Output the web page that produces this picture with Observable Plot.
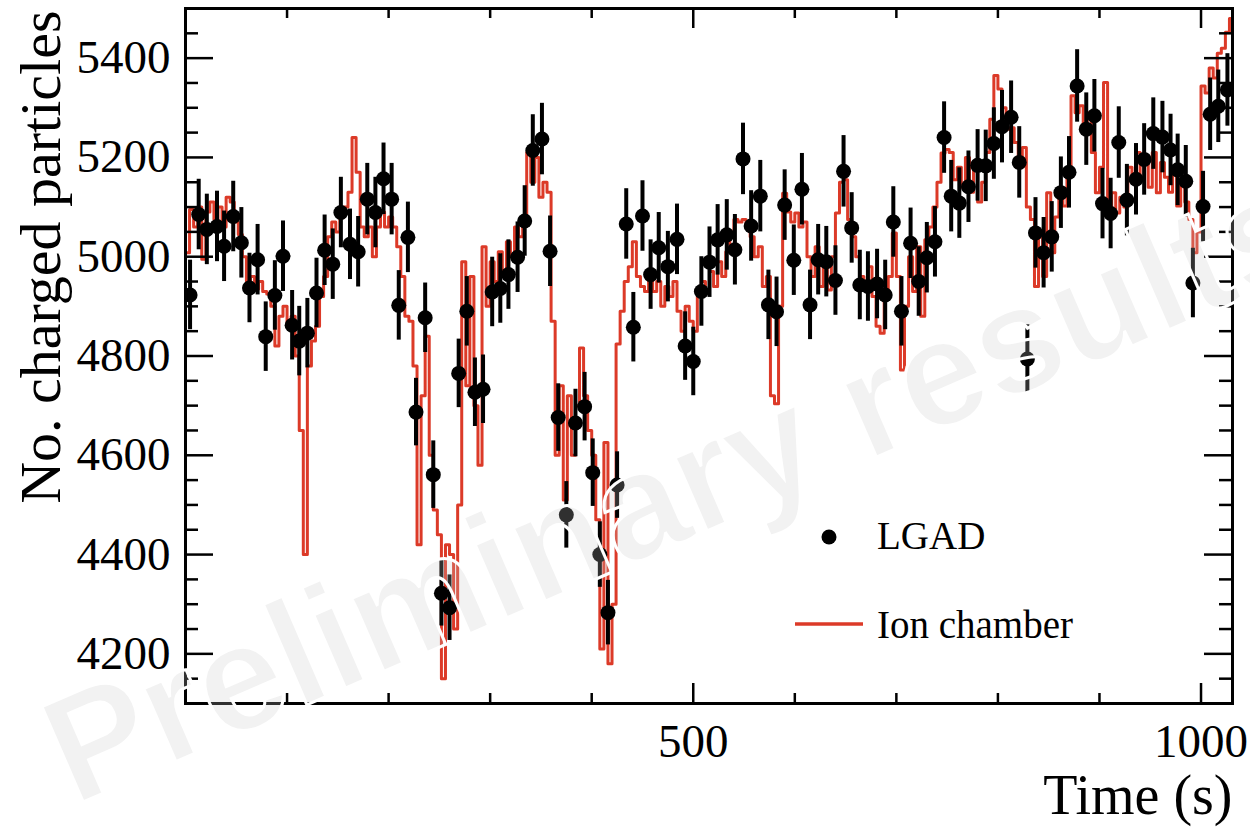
<!DOCTYPE html>
<html><head><meta charset="utf-8">
<script src="https://cdn.jsdelivr.net/npm/d3@7"></script>
<script src="https://cdn.jsdelivr.net/npm/@observablehq/plot@0.6"></script>
<style>
html,body{margin:0;padding:0;background:#fff;}
#chart{width:1250px;height:827px;}
</style></head><body><div id="chart"></div>
<script>
// ---------------- data ----------------
const lgadTime = [4.5,13,21,31,38,47,55,63,71,79,88,96,105,112,120,129,137,145,153,162,170,179,187,195,203,210,219,227,236,244,252,260,269,277,285,293,302,310,318,327,334,342,351,359,367,375,384,393,401,408,416,425,434,441,450,458,466,475,484,492,500,508,516,524,533,541,549,557,566,574,582,590,599,607,615,623,631,640,648,656,664,672,681,689,697,705,714,722,730,738,747,754,762,771,780,788,796,804,813,821,829,837,845,853,862,870,878,887,895,903,911,919,927,936,944,953,962,970,977,985,992,1002,1009,1017,1026];
const lgadCount = [4923,5085,5055,5061,5021,5081,5028,4937,4994,4839,4922,5001,4862,4830,4846,4927,5013,4985,5089,5025,5010,5116,5089,5157,5116,4902,5039,4687,4877,4561,4322,4293,4765,4890,4727,4733,4929,4936,4964,4999,5072,5214,5237,5011,4676,4480,4665,4698,4565,4400,4283,4540,5066,4858,5082,4964,5018,4980,5035,4820,4789,4930,4989,5034,5044,5014,5197,5062,5122,4903,4889,5104,4993,5136,4903,4994,4990,4952,5172,5058,4943,4940,4945,4923,5070,4890,5027,4950,4998,5030,5240,5122,5108,5141,5184,5183,5228,5262,5281,5190,4794,5048,5008,5040,5129,5170,5344,5257,5284,5107,5087,5230,5114,5156,5196,5248,5241,5215,5175,5152,4947,5101,5287,5303,5336];
const lgadErr = [70,71,71,71,71,71,71,70,71,70,70,71,70,70,70,70,71,71,71,71,71,72,71,72,72,70,71,68,70,68,66,66,69,70,69,69,70,70,70,71,71,72,72,71,68,67,68,69,68,66,65,67,71,70,71,70,71,71,71,69,69,70,71,71,71,71,72,71,72,70,70,71,71,72,70,71,71,70,72,71,70,70,70,70,71,70,71,70,71,71,72,72,71,72,72,72,72,73,73,72,69,71,71,71,72,72,73,73,73,71,71,72,72,72,72,72,72,72,72,72,70,71,73,73,73];

// Ion chamber histogram: bin start 0 s, bin width 4 s
const ionBinWidth = 4;
const ionCount = [
5008,5095,5060,5100,4995,5090,5110,5075,5100,5060,
5120,5110,5070,5045,5000,4950,4960,4935,4950,4930,
4925,4900,4820,4880,4900,4860,4880,4800,4650,4400,
4780,4830,4860,4920,4960,5040,5070,5050,5080,5100,
5130,5240,5170,5060,5040,5060,5000,5060,5090,5060,
5080,5060,5020,4960,4880,4870,4780,4420,4720,4840,
4600,4490,4440,4150,4420,4400,4250,4500,4990,4740,
4960,4700,4580,5020,4900,4990,4950,5010,4960,5030,
5000,5060,5040,5070,5210,5150,5200,5120,5150,5130,
4870,4600,4740,4510,4720,4600,4700,4816,4720,4650,
4600,4470,4210,4626,4180,4300,4824,4890,4950,4980,
5030,4960,4940,4930,4960,4930,4950,4900,4940,4920,
4950,4890,4850,4900,4870,4850,4920,4950,4930,4970,
4940,4990,4960,5010,5040,5075,5070,5075,5060,5040,
5000,5020,4940,4960,4720,4704,4900,5128,5090,5070,
5088,5060,5070,5000,4960,5020,4940,4980,4933,5000,
5088,5150,5155,5075,5040,5000,4960,4940,4980,4920,
4860,4846,4930,4960,5048,4960,4772,4900,5000,4930,
5020,4880,5034,5060,5100,5150,5209,5216,5210,5155,
5180,5140,5200,5130,5180,5110,5150,5210,5277,5365,
5338,5300,5257,5260,5230,5190,5220,5100,5075,4940,
5040,4960,5129,5008,5080,5130,5102,5176,5324,5290,
5304,5257,5290,5210,5129,5180,5351,5100,5129,5088,
5120,5100,5180,5150,5210,5160,5200,5140,5210,5129,
5190,5160,5130,5176,5102,5150,5110,5075,5008,5050,
5344,5330,5380,5360,5410,5420,5452,5480];

const xDomain = [0, 1031];
const yDomain = [4100, 5500];
const xMinorTicks = [100,200,300,400,600,700,800,900];
const xMajorTicks = [500,1000];
const yMajorTicks = [4200,4400,4600,4800,5000,5200,5400];
const yMinorTicks = [4150,4250,4300,4350,4450,4500,4550,4650,4700,4750,4850,4900,4950,5050,5100,5150,5250,5300,5350,5450];
const xTitle = "Time (s)";
const yTitle = "No. charged particles";
const legendLabels = ["LGAD", "Ion chamber"];
const watermarkText = "Preliminary results";

// ---------------- layout ----------------
const W = 1250, H = 827;
const mL = 185, mR = 18, mT = 8, mB = 124;
const pw = W - mL - mR, ph = H - mT - mB;
const RED = "#dc3a28";
const SERIF = "'Liberation Serif', 'Times New Roman', serif";

const lgad = lgadTime.map((t, i) => ({t, v: lgadCount[i], e: lgadErr[i]}));
const ion = ionCount.map((v, i) => ({t: i * ionBinWidth, v}));
ion.unshift({t: 0, v: 0});
ion.push({t: ionCount.length * ionBinWidth, v: ionCount[ionCount.length - 1]});

function legendMark() {
  const g = d3.create("svg:g").attr("text-anchor", "start");
  g.append("circle").attr("cx", 829).attr("cy", 537).attr("r", 7.5).attr("fill", "black");
  g.append("text").attr("x", 877).attr("y", 549).attr("font-family", SERIF).attr("font-size", 39)
    .attr("text-anchor", "start").attr("fill", "black").text(legendLabels[0]);
  g.append("line").attr("x1", 795).attr("x2", 863).attr("y1", 624).attr("y2", 624)
    .attr("stroke", RED).attr("stroke-width", 3.5);
  g.append("text").attr("x", 877).attr("y", 638).attr("font-family", SERIF).attr("font-size", 39)
    .attr("text-anchor", "start").attr("fill", "black").text(legendLabels[1]);
  return g.node();
}

function watermarkMark() {
  const g = d3.create("svg:g");
  g.append("text")
    .attr("transform", "translate(74,806) rotate(-23.5)")
    .attr("text-anchor", "start")
    .attr("font-family", "'Liberation Sans', Arial, sans-serif")
    .attr("font-weight", "bold")
    .attr("font-size", 151)
    .attr("fill", "#c8c8c8").attr("fill-opacity", 0.24)
    .attr("stroke", "white").attr("stroke-width", 3)
    .text(watermarkText);
  return g.node();
}

const chart = Plot.plot({
  width: W, height: H,
  marginLeft: mL, marginRight: mR, marginTop: mT, marginBottom: mB,
  style: {background: "white", color: "black", fontFamily: SERIF, overflow: "hidden"},
  x: {domain: xDomain},
  y: {domain: yDomain},
  marks: [
    Plot.line(ion, {x: "t", y: "v", curve: "step-after", stroke: RED, strokeWidth: 3, clip: true}),
    Plot.ruleX(lgad, {x: "t", y1: d => d.v - d.e, y2: d => d.v + d.e, stroke: "black", strokeWidth: 4, clip: true}),
    Plot.dot(lgad, {x: "t", y: "v", r: 7.5, fill: "black", stroke: "none", clip: true}),
    // inward ticks: left & right
    Plot.tickY(yMajorTicks, {y: d => d, insetRight: pw - 28, stroke: "black", strokeWidth: 2.5}),
    Plot.tickY(yMinorTicks, {y: d => d, insetRight: pw - 13, stroke: "black", strokeWidth: 2.5}),
    Plot.tickY(yMajorTicks, {y: d => d, insetLeft: pw - 28, stroke: "black", strokeWidth: 2.5}),
    Plot.tickY(yMinorTicks, {y: d => d, insetLeft: pw - 13, stroke: "black", strokeWidth: 2.5}),
    // inward ticks: bottom & top
    Plot.tickX(xMajorTicks, {x: d => d, insetTop: ph - 20, stroke: "black", strokeWidth: 2.5}),
    Plot.tickX(xMinorTicks, {x: d => d, insetTop: ph - 10, stroke: "black", strokeWidth: 2.5}),
    Plot.tickX(xMajorTicks, {x: d => d, insetBottom: ph - 20, stroke: "black", strokeWidth: 2.5}),
    Plot.tickX(xMinorTicks, {x: d => d, insetBottom: ph - 10, stroke: "black", strokeWidth: 2.5}),
    Plot.frame({stroke: "black", strokeWidth: 3}),
    Plot.axisY(yMajorTicks, {anchor: "left", tickSize: 0, tickPadding: 15, label: null,
      tickFormat: d => String(d), fontSize: 47, fontFamily: SERIF, fill: "black"}),
    Plot.axisX(xMajorTicks, {anchor: "bottom", tickSize: 0, tickPadding: 20, label: null,
      tickFormat: d => String(d), fontSize: 47, fontFamily: SERIF, fill: "black"}),
    Plot.text([yTitle], {text: d => d, frameAnchor: "top-left", rotate: -90, textAnchor: "end",
      lineAnchor: "bottom", dx: -126, dy: 2, fontSize: 58, fontFamily: SERIF, fill: "black"}),
    Plot.text([xTitle], {text: d => d, frameAnchor: "bottom-right", textAnchor: "end",
      lineAnchor: "bottom", dy: 110, fontSize: 56, fontFamily: SERIF, fill: "black"}),
    legendMark,
    watermarkMark
  ]
});
document.getElementById("chart").appendChild(chart);
</script>
</body></html>
